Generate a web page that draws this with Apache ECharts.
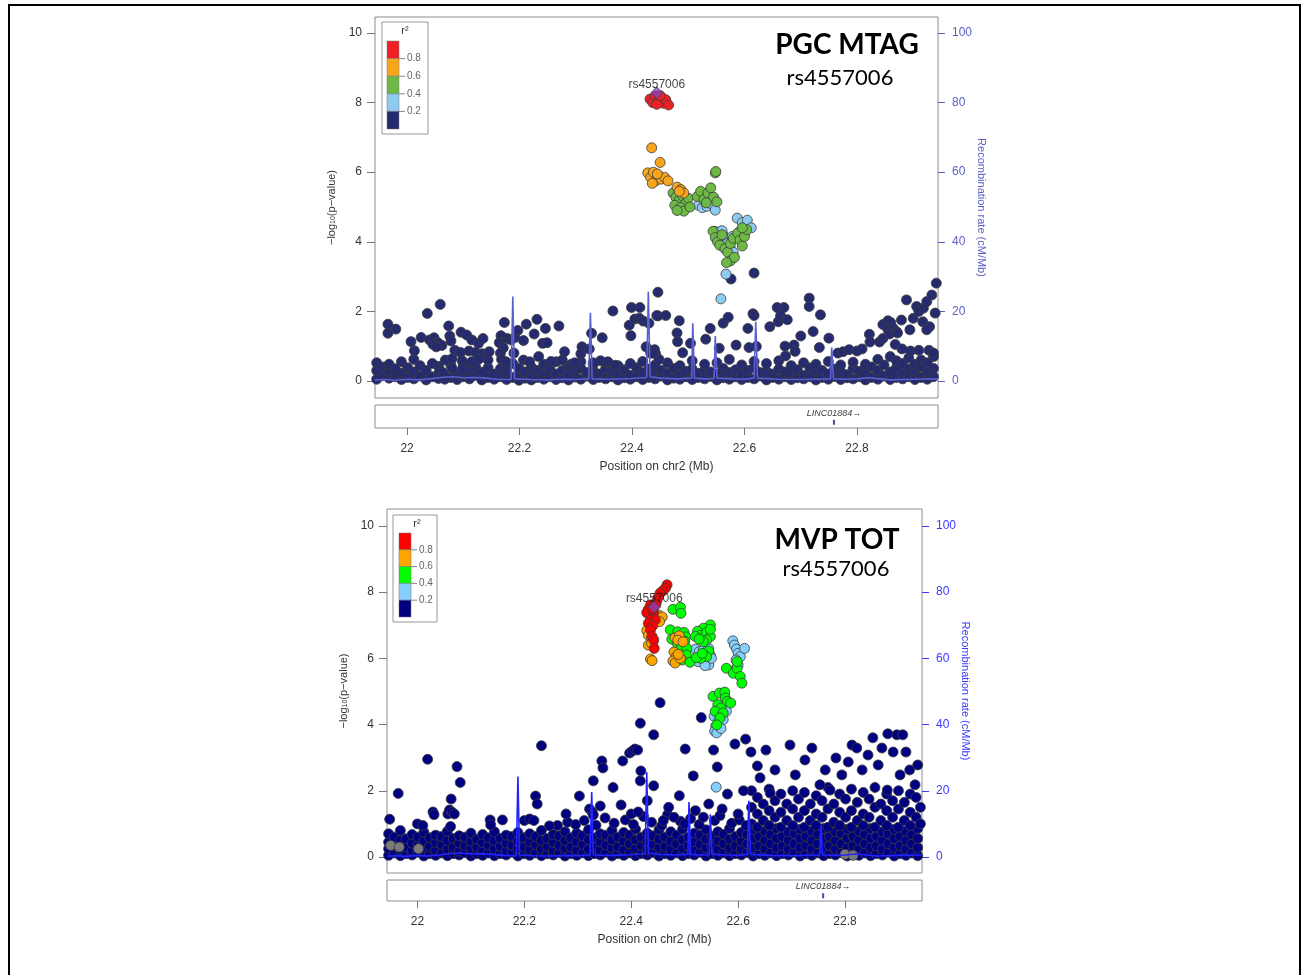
<!DOCTYPE html>
<html>
<head>
<meta charset="utf-8">
<title>LocusZoom rs4557006</title>
<script src="https://cdn.jsdelivr.net/npm/echarts@6/dist/echarts.min.js"></script>
<style>
  html, body { margin: 0; padding: 0; background: #fff; }
  #chart { width: 1304px; height: 975px; }
</style>
</head>
<body>
<div id="chart"></div>
<script>
// ---- shared axis values ----
const xTicks = [22, 22.2, 22.4, 22.6, 22.8]
const pTicks = [0, 2, 4, 6, 8, 10]
const recTicks = [0, 20, 40, 60, 80, 100]
const r2Labels = ['0.8', '0.6', '0.4', '0.2']
const leadName = 'rs4557006'
const geneName = 'LINC01884'
const genePos = 22.759

// recombination rate (cM/Mb), same map for both panels
const recombRate = [[21.943,0.3],[21.96,0.4],[21.98,0.2],[22.0,0.5],[22.02,0.3],[22.04,0.6],[22.06,1.0],[22.08,1.2],[22.10,0.9],[22.12,1.0],[22.14,0.8],[22.16,0.5],[22.185,0.4],[22.188,24.3],[22.191,0.6],[22.22,0.4],[22.25,0.3],[22.28,0.5],[22.30,0.4],[22.323,0.6],[22.326,19.6],[22.329,0.6],[22.36,0.5],[22.40,0.7],[22.426,1.0],[22.429,25.6],[22.432,1.2],[22.45,0.8],[22.48,0.6],[22.506,0.8],[22.508,16.6],[22.511,0.8],[22.53,0.6],[22.546,0.7],[22.548,12.9],[22.551,0.8],[22.58,0.6],[22.60,0.5],[22.617,0.8],[22.62,17.0],[22.623,0.8],[22.66,0.5],[22.70,0.4],[22.753,0.6],[22.755,9.6],[22.758,0.6],[22.78,0.5],[22.80,0.6],[22.82,0.9],[22.84,0.6],[22.86,0.3],[22.90,0.5],[22.944,0.6]]

// ---- PGC MTAG (top) ----
// band rows: [position, -log10 p, ...]
const topBand = [
  [21.946,0.05,0.30,0.52],[21.957,0.15,0.40],[21.968,0.08,0.28,0.48],[21.979,0.12,0.35],[21.990,0.04,0.22,0.55],
  [22.001,0.10,0.38],[22.012,0.06,0.26,0.62],[22.023,0.14,0.44],[22.034,0.03,0.30],[22.045,0.12,0.50],
  [22.056,0.07,0.20,0.42],[22.067,0.15,0.05],[22.078,0.10,0.45],[22.089,0.04,0.22],[22.100,0.12,0.48],
  [22.111,0.06,0.30],[22.122,0.16,0.40],[22.133,0.03,0.25],[22.144,0.10,0.38,0.60],[22.155,0.05,0.20],
  [22.166,0.12,0.35],[22.177,0.04,0.28,0.46],[22.188,0.10,0.50],[22.199,0.02,0.18,0.36],[22.210,0.08,0.26],
  [22.221,0.03,0.15,0.40],[22.232,0.10,0.30],[22.243,0.05,0.22,0.48],[22.254,0.12,0.36],[22.265,0.04,0.20,0.55],
  [22.276,0.09,0.30],[22.287,0.03,0.18,0.42],[22.298,0.11,0.28],[22.309,0.05,0.36,0.55],[22.320,0.14,0.24],
  [22.331,0.04,0.30,0.48],[22.342,0.10,0.20],[22.353,0.06,0.34,0.52],[22.364,0.12,0.26],[22.375,0.03,0.20,0.44],
  [22.386,0.09,0.32],[22.397,0.05,0.16,0.50],[22.408,0.12,0.38],[22.419,0.04,0.24,0.56],[22.430,0.10,0.34],
  [22.441,0.06,0.20,0.46],[22.452,0.14,0.30],[22.463,0.03,0.22,0.52],[22.474,0.08,0.36],[22.485,0.05,0.18,0.44],
  [22.496,0.12,0.28],[22.507,0.04,0.34,0.58],[22.518,0.10,0.22],[22.529,0.06,0.30,0.48],[22.540,0.13,0.26],
  [22.551,0.03,0.20,0.52],[22.562,0.09,0.36],[22.573,0.05,0.24,0.62],[22.584,0.12,0.32],[22.595,0.04,0.18,0.46],
  [22.606,0.10,0.30],[22.617,0.06,0.38,0.56],[22.628,0.14,0.24],[22.639,0.03,0.28,0.50],[22.650,0.10,0.20],
  [22.661,0.05,0.34,0.58],[22.672,0.12,0.26],[22.683,0.04,0.20,0.44],[22.694,0.09,0.32],[22.705,0.06,0.16,0.52],
  [22.716,0.12,0.38],[22.727,0.03,0.24,0.48],[22.738,0.10,0.30],[22.749,0.05,0.20,0.56],[22.760,0.13,0.34],
  [22.771,0.04,0.26,0.46],[22.782,0.09,0.18],[22.793,0.06,0.36,0.54],[22.804,0.12,0.28],[22.815,0.03,0.22,0.48],
  [22.826,0.10,0.40],[22.837,0.05,0.30,0.62],[22.848,0.14,0.46],[22.859,0.04,0.26,0.70],[22.870,0.10,0.38,0.58],
  [22.881,0.06,0.22,0.50],[22.892,0.12,0.34,0.66],[22.903,0.04,0.28,0.48],[22.914,0.10,0.40,0.60],[22.925,0.05,0.24,0.52],
  [22.936,0.12,0.36,0.70]
]
const topNavy = [[21.966,1.63],[21.980,1.49],[21.966,1.37],[22.036,1.94],[22.059,2.20],[22.074,1.58],[22.025,1.25],[22.007,1.13],[22.013,0.87],[22.040,1.18],[22.048,1.24],[22.055,1.10],[22.046,1.05],[22.062,1.02],[22.052,0.98],[22.076,1.29],[22.078,1.15],[22.096,1.40],[22.106,1.32],[22.115,1.18],[22.127,1.08],[22.135,1.22],[22.085,0.88],[22.095,0.82],[22.110,0.86],[22.122,0.82],[22.134,0.78],[22.146,0.84],[22.068,0.60],[22.080,0.64],[22.098,0.58],[22.115,0.55],[22.127,0.62],[22.080,0.36],[22.098,0.34],[22.058,0.30],[22.064,0.24],[22.167,1.30],[22.164,1.10],[22.171,0.95],[22.166,0.80],[22.178,1.22],[22.185,1.18],[22.192,1.25],[22.168,0.62],[22.176,0.55],[22.190,0.80],[22.173,1.68],[22.197,1.45],[22.207,1.16],[22.212,1.63],[22.231,1.77],[22.246,1.51],[22.226,1.35],[22.241,1.08],[22.249,1.10],[22.234,0.70],[22.270,1.58],[22.280,0.84],[22.207,0.60],[22.218,0.55],[22.256,0.56],[22.276,0.60],[22.292,0.48],[22.298,0.52],[22.311,0.98],[22.309,0.78],[22.324,0.92],[22.328,1.37],[22.347,1.24],[22.366,2.01],[22.399,2.11],[22.414,2.11],[22.395,1.60],[22.398,1.30],[22.405,1.78],[22.413,1.80],[22.420,1.72],[22.430,1.66],[22.446,1.87],[22.446,2.55],[22.425,0.98],[22.433,0.80],[22.442,0.78],[22.448,0.62],[22.344,0.58],[22.357,0.55],[22.331,0.52],[22.370,0.45],
  [22.444,1.88],[22.460,1.88],[22.484,1.73],[22.480,1.38],[22.481,1.13],[22.490,0.81],[22.440,0.90],[22.437,0.80],[22.504,1.08],[22.531,1.20],[22.539,1.51],[22.555,0.94],[22.562,1.66],[22.571,1.83],[22.585,1.03],[22.606,1.51],[22.615,1.93],[22.617,1.88],[22.608,0.96],[22.621,0.99],[22.645,1.56],[22.658,2.11],[22.670,2.11],[22.660,1.70],[22.664,1.87],[22.676,1.76],[22.672,1.00],[22.673,0.72],[22.688,1.03],[22.690,0.85],[22.700,1.29],[22.715,2.38],[22.715,2.14],[22.722,1.42],[22.735,1.90],[22.733,0.96],[22.750,1.23],[22.766,0.80],[22.775,0.84],[22.786,0.90],[22.800,0.86],[22.809,0.92],[22.822,1.34],[22.823,1.12],[22.840,1.12],[22.846,1.22],[22.846,1.62],[22.855,1.73],[22.860,1.68],[22.855,1.47],[22.864,1.52],[22.870,1.42],[22.858,1.35],[22.872,1.38],[22.879,1.75],[22.888,2.33],[22.894,1.47],[22.900,1.80],[22.906,2.14],[22.910,2.00],[22.918,2.09],[22.924,2.28],[22.917,1.70],[22.929,1.56],[22.924,1.47],[22.933,2.47],[22.939,1.95],[22.941,2.81],[22.868,1.05],[22.880,0.92],[22.895,0.86],[22.910,0.88],[22.928,0.88],[22.936,0.80],
  [22.576,2.93],[22.617,3.10],[22.546,4.30]]
const topLightBlue = [[22.518,5.05],[22.525,4.98],[22.533,5.02],[22.540,5.10],[22.548,4.91],[22.530,5.15],[22.587,4.68],[22.596,4.55],[22.605,4.62],[22.612,4.40],[22.592,4.30],[22.600,4.25],[22.562,4.20],[22.568,4.05],[22.574,3.85],[22.580,3.70],[22.570,3.95],[22.578,4.15],[22.567,3.07],[22.558,2.36],[22.555,4.28],[22.560,4.32]]
const topGreen = [[22.473,5.40],[22.478,5.28],[22.484,5.20],[22.490,5.32],[22.495,5.10],[22.500,5.25],[22.476,5.05],[22.486,4.98],[22.492,4.88],[22.503,5.00],[22.480,4.90],[22.516,5.30],[22.522,5.45],[22.528,5.22],[22.535,5.40],[22.540,5.55],[22.545,5.28],[22.551,5.15],[22.532,5.12],[22.548,5.98],[22.549,6.02],[22.544,4.30],[22.548,4.12],[22.552,4.00],[22.556,3.90],[22.560,4.20],[22.565,3.80],[22.570,3.70],[22.575,3.95],[22.580,4.10],[22.588,4.25],[22.592,4.05],[22.596,3.88],[22.600,4.15],[22.604,4.35],[22.596,4.40],[22.575,3.45],[22.582,3.55],[22.568,3.40]]
const topOrange = [[22.435,6.70],[22.450,6.28],[22.428,5.98],[22.433,5.85],[22.438,6.00],[22.442,5.75],[22.447,5.90],[22.452,5.80],[22.458,5.85],[22.464,5.75],[22.436,5.68],[22.445,5.95],[22.480,5.57],[22.487,5.50],[22.492,5.40],[22.484,5.45]]
const topRed = [[22.432,8.10],[22.437,8.00],[22.441,8.18],[22.447,8.05],[22.452,8.15],[22.456,7.98],[22.460,8.08],[22.465,7.93],[22.444,7.95],[22.450,8.20]]
const topLead = [22.444, 8.28]

// ---- MVP TOT (bottom) ----
const bottomBand = [
  [21.946,0.05,0.25,0.45,0.70],[21.957,0.12,0.35,0.60],[21.968,0.04,0.22,0.50,0.80],[21.979,0.10,0.30,0.55],[21.990,0.06,0.20,0.42,0.68],
  [22.001,0.14,0.36,0.60],[22.012,0.03,0.26,0.48,0.75],[22.023,0.10,0.32,0.58],[22.034,0.05,0.20,0.44,0.66],[22.045,0.12,0.38,0.62],
  [22.056,0.04,0.24,0.50,0.78],[22.067,0.10,0.30,0.56],[22.078,0.06,0.18,0.42,0.64],[22.089,0.13,0.34,0.60],[22.100,0.03,0.26,0.48,0.72],
  [22.111,0.10,0.30,0.54],[22.122,0.05,0.22,0.44,0.68],[22.133,0.12,0.36,0.58],[22.144,0.04,0.24,0.50,0.76],[22.155,0.10,0.32,0.56],
  [22.166,0.06,0.18,0.42,0.66],[22.177,0.14,0.36,0.62],[22.188,0.03,0.26,0.48,0.74],[22.199,0.10,0.30,0.58],[22.210,0.05,0.22,0.46,0.70],
  [22.221,0.12,0.38,0.62],[22.232,0.04,0.24,0.50,0.80],[22.243,0.10,0.32,0.56],[22.254,0.06,0.20,0.44,0.68],[22.265,0.13,0.36,0.64],
  [22.276,0.03,0.26,0.50,0.76],[22.287,0.10,0.30,0.58],[22.298,0.05,0.22,0.46,0.72],[22.309,0.12,0.38,0.64],[22.320,0.04,0.24,0.52,0.82],
  [22.331,0.10,0.32,0.58],[22.342,0.06,0.20,0.46,0.70],[22.353,0.14,0.36,0.66],[22.364,0.03,0.28,0.52,0.80],[22.375,0.10,0.30,0.60],
  [22.386,0.05,0.22,0.48,0.74],[22.397,0.12,0.40,0.66],[22.408,0.04,0.26,0.52,0.84],[22.419,0.10,0.34,0.60],[22.430,0.06,0.22,0.46,0.72],
  [22.441,0.13,0.38,0.64],[22.452,0.03,0.28,0.54,0.82],[22.463,0.10,0.32,0.60],[22.474,0.05,0.22,0.48,0.76],[22.485,0.12,0.40,0.66],
  [22.496,0.04,0.26,0.52,0.84],[22.507,0.10,0.34,0.60],[22.518,0.06,0.22,0.46,0.72],[22.529,0.14,0.38,0.66],[22.540,0.03,0.28,0.54,0.82],
  [22.551,0.10,0.32,0.62],[22.562,0.05,0.22,0.48,0.76],[22.573,0.12,0.40,0.68],[22.584,0.04,0.26,0.54,0.86],[22.595,0.10,0.34,0.62],
  [22.606,0.06,0.24,0.48,0.74],[22.617,0.13,0.40,0.68],[22.628,0.03,0.28,0.56,0.84],[22.639,0.10,0.34,0.62],[22.650,0.05,0.24,0.50,0.78],
  [22.661,0.12,0.40,0.68],[22.672,0.04,0.28,0.56,0.86],[22.683,0.10,0.34,0.62],[22.694,0.06,0.24,0.50,0.76],[22.705,0.14,0.40,0.70],
  [22.716,0.03,0.28,0.56,0.84],[22.727,0.10,0.34,0.62],[22.738,0.05,0.24,0.50,0.78],[22.749,0.12,0.40,0.68],[22.760,0.04,0.28,0.56,0.86],
  [22.771,0.10,0.34,0.62],[22.782,0.06,0.24,0.50,0.76],[22.793,0.13,0.40,0.70],[22.804,0.03,0.28,0.56,0.84],[22.815,0.10,0.34,0.62],
  [22.826,0.05,0.24,0.50,0.78],[22.837,0.12,0.40,0.68],[22.848,0.04,0.28,0.56,0.86],[22.859,0.10,0.34,0.62],[22.870,0.06,0.24,0.50,0.76],
  [22.881,0.14,0.40,0.70],[22.892,0.03,0.28,0.56,0.84],[22.903,0.10,0.34,0.62],[22.914,0.05,0.24,0.50,0.78],[22.925,0.12,0.40,0.68],
  [22.936,0.04,0.28,0.56,0.86]
]
// denser cloud on the right side
const bottomCloud = [
  [22.625,1.0,1.5,2.0],[22.636,0.9,1.3,1.8],[22.647,1.1,1.6],[22.658,0.95,1.4,2.05],[22.669,1.2,1.7],[22.680,0.9,1.35,1.9],
  [22.691,1.1,1.6],[22.702,0.95,1.45,2.0],[22.713,1.2,1.75],[22.724,0.9,1.4,1.95],[22.735,1.1,1.6],[22.746,0.95,1.3,1.85],
  [22.757,1.2,1.7],[22.768,0.9,1.45,2.1],[22.779,1.05,1.6],[22.790,0.95,1.35,1.9],[22.801,1.2,1.75],[22.812,0.9,1.4,2.05],
  [22.823,1.1,1.65],[22.834,0.95,1.3,1.95],[22.845,1.2,1.75],[22.856,0.9,1.5,2.1],[22.867,1.1,1.6],[22.878,0.95,1.4,1.9],
  [22.889,1.2,1.7],[22.900,0.9,1.45,2.0],[22.911,1.1,1.65],[22.922,0.95,1.35,1.9],[22.933,1.2,1.8],[22.941,1.0,1.5]
]
const bottomMid = [[22.262,0.95],[22.281,1.05],[22.296,0.98],[22.312,1.10],[22.334,0.96],[22.351,1.18],[22.368,1.02],[22.389,1.12],[22.404,0.98],[22.423,1.22],[22.438,1.05],[22.457,0.95],[22.468,1.28],[22.492,1.08],[22.511,1.16],[22.527,0.98],[22.556,1.10],[22.566,1.25],[22.588,1.02],[22.602,1.12],[22.615,0.95]]
const bottomNavy = [[21.948,1.14],[21.964,1.92],[22.019,2.95],[22.074,2.73],[22.080,2.25],[22.063,1.75],[22.029,1.36],[22.031,1.28],[22.057,1.30],[22.060,1.42],[22.065,1.35],[22.069,1.30],[22.062,0.92],[22.000,1.00],[22.010,0.95],[22.136,1.12],[22.137,0.97],[22.159,1.12],[22.232,3.36],[22.221,1.84],[22.224,1.60],[22.200,1.10],[22.210,1.15],[22.218,1.10],[22.247,0.94],[22.278,1.30],[22.303,1.84],[22.322,1.45],[22.327,1.35],[22.329,1.27],[22.342,1.54],[22.329,2.30],[22.345,2.90],[22.347,2.69],[22.366,2.10],[22.381,1.57],[22.384,2.90],[22.397,3.14],[22.402,3.20],[22.407,3.26],[22.412,3.23],[22.417,4.04],[22.442,3.69],[22.417,2.30],[22.418,2.60],[22.430,1.70],[22.400,1.30],[22.413,1.36],[22.442,2.15],[22.454,4.66],[22.531,4.21],[22.594,3.41],[22.614,3.56],[22.554,3.23],[22.501,3.26],[22.516,2.45],[22.561,2.72],[22.624,3.17],[22.652,3.23],[22.697,3.38],[22.738,3.29],
  [22.47,1.5],[22.48,1.2],[22.49,1.85],[22.52,1.4],[22.535,1.2],[22.545,1.6],[22.57,1.45],[22.58,1.9],[22.60,1.3],[22.61,2.0],[22.46,1.1],[22.50,1.0],
  [22.636,2.75],[22.641,2.39],[22.660,1.93],[22.669,2.63],[22.707,2.48],[22.725,2.93],[22.753,2.18],[22.763,2.63],[22.772,2.02],[22.783,2.99],[22.794,2.48],[22.806,2.87],[22.813,3.38],[22.822,3.29],[22.832,2.63],[22.843,3.08],[22.852,3.60],[22.862,2.78],[22.869,3.29],[22.880,3.72],[22.890,3.17],[22.897,3.69],[22.908,3.69],[22.914,3.17],[22.921,2.63],[22.931,2.18],[22.936,2.78],[22.903,2.48],[22.879,2.02]]
const bottomGray = [[21.950,0.35],[21.966,0.30],[22.002,0.25],[22.800,0.08],[22.815,0.05]]
const bottomLightBlue = [[22.520,6.28],[22.527,6.20],[22.535,6.25],[22.545,6.30],[22.548,6.10],[22.530,6.05],[22.540,5.95],[22.545,5.80],[22.525,5.90],[22.538,5.78],[22.550,6.00],[22.590,6.53],[22.593,6.40],[22.597,6.28],[22.600,6.15],[22.604,6.05],[22.612,6.30],[22.596,5.95],[22.600,5.80],[22.594,5.65],[22.560,4.42],[22.555,4.25],[22.563,4.10],[22.558,3.95],[22.556,3.80],[22.560,3.75],[22.572,4.15],[22.578,4.40],[22.568,3.88],[22.559,2.11]]
const bottomGreen = [[22.478,7.48],[22.492,7.54],[22.493,7.36],[22.473,6.86],[22.487,6.80],[22.499,6.78],[22.502,6.65],[22.476,6.58],[22.500,6.52],[22.486,6.45],[22.494,6.35],[22.504,6.30],[22.503,6.10],[22.495,5.95],[22.510,5.88],[22.548,7.01],[22.535,6.91],[22.524,6.82],[22.530,6.70],[22.541,6.78],[22.548,6.66],[22.541,6.55],[22.535,6.50],[22.520,6.66],[22.527,6.58],[22.548,6.88],[22.545,6.22],[22.541,6.05],[22.530,6.00],[22.522,6.02],[22.533,6.15],[22.578,5.70],[22.591,5.55],[22.598,5.70],[22.604,5.45],[22.607,5.25],[22.598,5.90],[22.553,4.85],[22.565,4.95],[22.575,4.98],[22.576,4.80],[22.562,4.60],[22.568,4.50],[22.580,4.70],[22.586,4.65],[22.557,4.40],[22.572,4.35],[22.566,4.20],[22.560,3.99]]
const bottomOrange = [[22.451,7.31],[22.458,7.25],[22.453,7.11],[22.429,6.84],[22.432,6.70],[22.438,6.62],[22.441,6.50],[22.432,6.40],[22.438,6.45],[22.436,5.98],[22.439,5.93],[22.482,6.62],[22.490,6.68],[22.487,6.55],[22.497,6.50],[22.480,6.19],[22.484,6.05],[22.478,5.92],[22.482,5.86],[22.492,6.00],[22.488,6.12]]
const bottomRed = [[22.467,8.22],[22.464,8.12],[22.459,8.04],[22.454,7.97],[22.451,7.86],[22.448,7.74],[22.436,7.61],[22.432,7.48],[22.429,7.38],[22.442,7.38],[22.436,7.16],[22.445,7.16],[22.432,7.06],[22.440,6.98],[22.436,6.86],[22.439,6.66],[22.442,6.56],[22.443,6.30],[22.440,7.50],[22.446,7.62]]
const bottomLead = [22.443, 7.55]

// LD colours, top to bottom: >0.8, 0.6-0.8, 0.4-0.6, 0.2-0.4, <0.2
const topColors = ['#ee2026', '#f8a51b', '#6cb945', '#8fcbf1', '#262b70']
const bottomColors = ['#ff0000', '#ffa500', '#00ff00', '#87cefa', '#000080']

const FONT = '"Liberation Sans", Arial, sans-serif'
const X_MIN = 21.943, X_MAX = 22.944

function expandRows(rows) {
  const pts = []
  rows.forEach(r => { for (let i = 1; i < r.length; i++) pts.push([r[0], r[i]]) })
  return pts
}

const chart = echarts.init(document.getElementById('chart'))

const panels = [
  {
    main: { left: 375, top: 17, width: 563, height: 381 },
    gene: { left: 375, top: 405, width: 563, height: 23 },
    yMin: -0.49, yMax: 10.46, recGap: 37,
    colors: topColors, recColor: '#5b5fcf', recLabel: '#5b5fc4',
    navy: expandRows(topBand).concat(topNavy), gray: [],
    groups: [topLightBlue, topGreen, topOrange, topRed], lead: topLead
  },
  {
    main: { left: 387, top: 509, width: 535, height: 364 },
    gene: { left: 387, top: 880, width: 535, height: 21 },
    yMin: -0.483, yMax: 10.51, recGap: 35,
    colors: bottomColors, recColor: '#2323ff', recLabel: '#3a3aff',
    navy: expandRows(bottomBand).concat(expandRows(bottomCloud), bottomMid, bottomNavy), gray: bottomGray,
    groups: [bottomLightBlue, bottomGreen, bottomOrange, bottomRed], lead: bottomLead
  }
]

const grid = [], xAxis = [], yAxis = [], series = []

panels.forEach((p, i) => {
  const gMain = i * 2, gGene = i * 2 + 1
  grid.push(Object.assign({ show: true, borderColor: '#8c8c8c', borderWidth: 1, backgroundColor: '#fff' }, p.main))
  grid.push(Object.assign({ show: true, borderColor: '#8c8c8c', borderWidth: 1, backgroundColor: '#fff' }, p.gene))

  xAxis.push({
    type: 'value', gridIndex: gMain, min: X_MIN, max: X_MAX,
    axisLine: { show: false }, axisTick: { show: false }, axisLabel: { show: false }, splitLine: { show: false }
  })
  xAxis.push({
    type: 'value', gridIndex: gGene, min: X_MIN, max: X_MAX,
    axisLine: { show: false }, splitLine: { show: false },
    axisTick: { show: true, customValues: xTicks, length: 7, lineStyle: { color: '#777' } },
    axisLabel: { customValues: xTicks, margin: 15, fontSize: 12, color: '#333', fontFamily: FONT },
    name: 'Position on chr2 (Mb)', nameLocation: 'middle', nameGap: 33,
    nameTextStyle: { fontSize: 12, color: '#333', fontFamily: FONT }
  })

  const yLeft = yAxis.length
  yAxis.push({
    type: 'value', gridIndex: gMain, min: p.yMin, max: p.yMax, position: 'left',
    axisLine: { show: false }, splitLine: { show: false },
    axisTick: { show: true, customValues: pTicks, length: 8, lineStyle: { color: '#777' } },
    axisLabel: { customValues: pTicks, margin: 13, fontSize: 12, color: '#333', fontFamily: FONT },
    name: '\u2212log{s|10}(p\u2212value)', nameLocation: 'middle', nameGap: 38,
    nameTextStyle: { fontSize: 11, color: '#333', fontFamily: FONT, rich: { s: { fontSize: 7, fontFamily: FONT, color: '#333', padding: [4, 0, 0, 0] } } }
  })
  const yRight = yAxis.length
  yAxis.push({
    type: 'value', gridIndex: gMain, min: p.yMin * 10, max: p.yMax * 10, position: 'right',
    axisLine: { show: false }, splitLine: { show: false },
    axisTick: { show: true, customValues: recTicks, length: 7, lineStyle: { color: p.recLabel } },
    axisLabel: { customValues: recTicks, margin: 14, fontSize: 12, color: p.recLabel, fontFamily: FONT },
    name: 'Recombination rate (cM/Mb)', nameLocation: 'middle', nameGap: p.recGap, nameRotate: -90,
    nameTextStyle: { fontSize: 11, color: p.recLabel, fontFamily: FONT }
  })
  const yGene = yAxis.length
  yAxis.push({ type: 'value', gridIndex: gGene, min: 0, max: 1, show: false })

  const dot = (data, color, z) => ({
    type: 'scatter', xAxisIndex: gMain, yAxisIndex: yLeft, data, symbolSize: 10, z,
    itemStyle: { color, borderColor: '#3c3c3c', borderWidth: 0.8, opacity: 1 },
    silent: true, animation: false
  })

  series.push(dot(p.navy, p.colors[4], 2))
  if (p.gray.length) series.push(dot(p.gray, '#7a7a7a', 2))
  p.groups.forEach((g, k) => series.push(dot(g, p.colors[3 - k], 3 + k)))
  series.push({
    type: 'scatter', xAxisIndex: gMain, yAxisIndex: yLeft, data: [p.lead], z: 8,
    symbol: 'diamond', symbolSize: 12,
    itemStyle: { color: '#8640b8', borderColor: '#3c3c3c', borderWidth: 0.8 },
    label: { show: true, formatter: leadName, position: 'top', distance: 0, offset: [0, 4], fontSize: 12, color: '#111', fontFamily: FONT },
    silent: true, animation: false
  })
  series.push({
    type: 'line', xAxisIndex: gMain, yAxisIndex: yRight, data: recombRate, z: 7,
    showSymbol: false, symbol: 'none', lineStyle: { color: p.recColor, width: 1.6 }, silent: true, animation: false
  })
  series.push({
    type: 'scatter', xAxisIndex: gGene, yAxisIndex: yGene, data: [[genePos, 0.25]],
    symbol: 'rect', symbolSize: [2, 5], itemStyle: { color: '#1d1d8c' },
    label: { show: true, formatter: geneName + '\u2192', position: 'top', distance: 2, fontSize: 9, fontStyle: 'italic', color: '#000', fontFamily: FONT },
    silent: true, animation: false
  })
})

function legendBox(x, y, w, h, bx, by, bh, colors) {
  const els = [{ type: 'rect', shape: { x, y, width: w, height: h }, style: { fill: '#fff', stroke: '#999', lineWidth: 1 } }]
  els.push({ type: 'text', x: bx + 18, y: y + 9, style: { text: 'r\u00b2', fontSize: 11, fill: '#333', fontFamily: FONT, align: 'center', verticalAlign: 'middle' } })
  colors.forEach((c, k) => {
    els.push({ type: 'rect', shape: { x: bx, y: by + k * bh, width: 12, height: bh }, style: { fill: c, stroke: '#777', lineWidth: 0.5 } })
  })
  r2Labels.forEach((t, k) => {
    const ty = by + (k + 1) * bh
    els.push({ type: 'line', shape: { x1: bx + 12, y1: ty, x2: bx + 18, y2: ty }, style: { stroke: '#888', lineWidth: 1 } })
    els.push({ type: 'text', x: bx + 20, y: ty, style: { text: t, fontSize: 10, fill: '#666', fontFamily: FONT, verticalAlign: 'middle' } })
  })
  return els
}

const titleFont = 'Lato, "Open Sans", sans-serif'
const graphic = [
  { type: 'rect', shape: { x: 9, y: 5, width: 1291, height: 1000 }, style: { fill: 'none', stroke: '#000', lineWidth: 2 }, z: 100 },
  { type: 'text', x: 847, y: 45, style: { text: 'PGC MTAG', fontSize: 28, fontWeight: 'bold', fill: '#000', fontFamily: titleFont, align: 'center', verticalAlign: 'middle' }, z: 100 },
  { type: 'text', x: 840, y: 78, style: { text: 'rs4557006', fontSize: 22, fill: '#000', fontFamily: titleFont, align: 'center', verticalAlign: 'middle' }, z: 100 },
  { type: 'text', x: 837, y: 540, style: { text: 'MVP TOT', fontSize: 28, fontWeight: 'bold', fill: '#000', fontFamily: titleFont, align: 'center', verticalAlign: 'middle' }, z: 100 },
  { type: 'text', x: 836, y: 569, style: { text: 'rs4557006', fontSize: 22, fill: '#000', fontFamily: titleFont, align: 'center', verticalAlign: 'middle' }, z: 100 },
  { type: 'group', z: 100, children: legendBox(382, 22, 46, 112, 387, 41, 17.6, topColors) },
  { type: 'group', z: 100, children: legendBox(393, 515, 44, 107, 399, 533, 16.8, bottomColors) }
]

chart.setOption({ animation: false, grid, xAxis, yAxis, series, graphic })
</script>
</body>
</html>
